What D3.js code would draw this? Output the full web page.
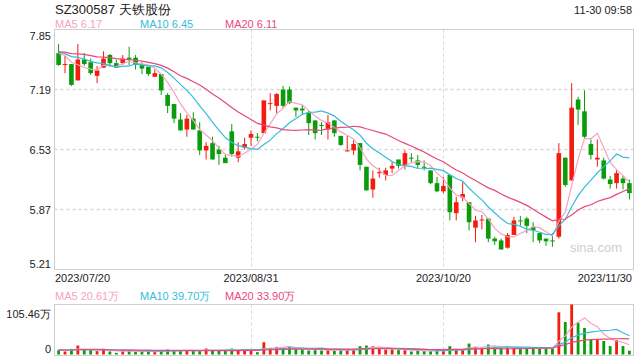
<!DOCTYPE html>
<html><head><meta charset="utf-8">
<script src="https://cdn.jsdelivr.net/npm/d3@7"></script>
<style>body{margin:0;background:#fff;}svg{display:block;font-family:"Liberation Sans",Arial,sans-serif;}</style>
</head><body><svg id="c" width="640" height="360"></svg>
<script>
const dates = ["07/20","07/21","07/24","07/25","07/26","07/27","07/28","07/31",
"08/01","08/02","08/03","08/04","08/07","08/08","08/09","08/10","08/11","08/14","08/15","08/16","08/17","08/18","08/21","08/22","08/23","08/24","08/25","08/28","08/29","08/30","08/31",
"09/01","09/04","09/05","09/06","09/07","09/08","09/11","09/12","09/13","09/14","09/15","09/18","09/19","09/20","09/21","09/22","09/25","09/26","09/27","09/28",
"10/09","10/10","10/11","10/12","10/13","10/16","10/17","10/18","10/19","10/20","10/23","10/24","10/25","10/26","10/27","10/30","10/31",
"11/01","11/02","11/03","11/06","11/07","11/08","11/09","11/10","11/13","11/14","11/15","11/16","11/17","11/20","11/21","11/22","11/23","11/24","11/27","11/28","11/29","11/30"];
const open  = [7.59,7.46,7.47,7.29,7.52,7.49,7.34,7.43,7.57,7.48,7.48,7.54,7.54,7.46,7.44,7.33,7.36,7.13,7.03,6.86,6.75,6.87,6.74,6.52,6.60,6.53,6.44,6.73,6.44,6.55,6.66,6.67,6.71,7.03,7.01,7.19,7.19,6.99,6.98,6.93,6.85,6.80,6.75,6.85,6.68,6.51,6.52,6.60,6.34,6.09,6.27,6.25,6.32,6.42,6.36,6.44,6.41,6.34,6.30,6.16,6.07,6.25,5.83,6.00,5.95,5.67,5.75,5.77,5.55,5.53,5.45,5.59,5.75,5.77,5.68,5.61,5.55,5.53,5.57,6.44,6.19,7.08,6.95,6.59,6.42,6.41,6.20,6.16,6.21,6.16];
const high  = [7.69,7.56,7.47,7.69,7.59,7.53,7.45,7.61,7.58,7.52,7.57,7.66,7.57,7.49,7.44,7.41,7.36,7.15,7.03,6.93,6.91,6.94,6.83,6.61,6.67,6.57,6.47,6.81,6.61,6.66,6.74,6.71,7.07,7.15,7.15,7.23,7.22,6.99,7.02,6.96,6.85,6.83,6.91,6.85,6.68,6.68,6.63,6.60,6.34,6.30,6.33,6.33,6.40,6.42,6.52,6.49,6.47,6.41,6.30,6.23,6.23,6.25,6.01,6.17,5.95,5.80,5.81,5.77,5.57,5.55,5.61,5.79,5.80,5.79,5.73,5.61,5.55,5.61,6.60,6.44,7.26,7.11,7.18,6.64,6.64,6.44,6.24,6.30,6.24,6.20];
const low   = [7.45,7.37,7.23,7.29,7.45,7.35,7.26,7.43,7.44,7.43,7.46,7.46,7.41,7.36,7.34,7.33,7.13,6.93,6.82,6.74,6.67,6.75,6.47,6.42,6.42,6.36,6.38,6.45,6.39,6.53,6.57,6.62,6.71,6.96,6.93,6.99,7.03,6.89,6.91,6.69,6.64,6.69,6.64,6.67,6.57,6.51,6.47,6.30,6.08,6.00,6.22,6.19,6.27,6.32,6.31,6.39,6.32,6.30,6.15,6.06,6.05,5.75,5.75,5.96,5.64,5.51,5.65,5.51,5.48,5.43,5.44,5.59,5.69,5.61,5.51,5.50,5.47,5.46,5.55,6.12,6.19,6.80,6.65,6.42,6.34,6.20,6.10,6.10,6.09,5.98];
const close = [7.46,7.47,7.24,7.52,7.47,7.37,7.40,7.53,7.48,7.43,7.53,7.52,7.46,7.42,7.36,7.37,7.18,7.01,6.87,6.74,6.87,6.75,6.52,6.57,6.42,6.48,6.38,6.48,6.51,6.59,6.70,6.66,7.07,7.04,7.14,7.01,7.04,6.96,6.96,6.82,6.71,6.79,6.83,6.71,6.58,6.52,6.59,6.36,6.08,6.21,6.28,6.30,6.35,6.35,6.49,6.43,6.36,6.33,6.16,6.07,6.13,5.84,5.95,6.04,5.73,5.75,5.76,5.55,5.52,5.43,5.59,5.75,5.74,5.69,5.64,5.53,5.52,5.52,6.49,6.14,6.99,6.97,6.67,6.47,6.44,6.21,6.15,6.27,6.16,6.05];
// volume in 万 shares
const volume = [9.1,6.3,11.9,18.9,10.5,9.1,7.0,11.9,6.3,3.5,7.0,8.4,7.0,7.0,9.1,4.9,7.7,10.5,8.4,8.4,7.7,7.7,9.1,12.6,8.4,9.1,9.1,12.6,9.1,10.5,10.5,4.9,25.9,14.0,16.1,14.0,16.1,11.9,10.5,8.4,9.1,8.4,10.5,7.7,10.5,9.1,11.9,17.5,18.9,17.5,11.9,10.5,10.5,9.1,9.1,6.3,9.1,7.0,7.0,7.7,7.7,17.5,11.9,10.5,23.1,16.1,14.7,21.0,16.1,14.0,14.0,14.0,12.8,12.8,13.5,12.8,12.8,13.5,89.0,68.5,105.46,67.0,56.0,32.7,32.7,28.5,17.8,30.6,17.8,8.0];
// estimated closes / volumes of the 19 sessions before the first candle (for the moving averages)
const priorClose = [7.52,7.55,7.60,7.58,7.63,7.66,7.61,7.59,7.64,7.68,7.62,7.57,7.60,7.65,7.63,7.58,7.61,7.66,7.62];
const priorVolume = [9.0,10.2,8.8,9.5,11.0,9.8,8.5,10.4,9.2,9.9,10.6,8.9,9.4,10.1,9.6,8.7,10.3,9.1,9.8];
const priceTicks = [7.85,7.19,6.53,5.87,5.21];
const dateTicks = ["2023/07/20","2023/08/31","2023/10/20","2023/11/30"];
const title = "SZ300587 天铁股份";
const timeStamp = "11-30 09:58";
const priceLegend = [["MA5 6.17","ma5"],["MA10 6.45","ma10"],["MA20 6.11","ma20"]];
const volLegend = [["MA5 20.61万","ma5"],["MA10 39.70万","ma10"],["MA20 33.90万","ma20"]];
const volMaxLabel = "105.46万";

const COL = {up:"#f31c0e", down:"#0b9c0b", ma5:"#f5a3c0", ma10:"#33bcdc", ma20:"#e9487c", grid:"#d8d8d8", border:"#cfcfcf", text:"#222"};
const svg = d3.select("#c");
const L = 54.5, R = 633.5, PT = 29.5, PB = 269.5, VT = 304.5, VB = 355.5;

const x = d3.scaleBand().domain(dates).range([L, R]).padding(0.28);
const cx = d => x(d) + x.bandwidth()/2;
const y = d3.scaleLinear().domain([5.21, 7.85]).range([PB, PT]);
const yv = d3.scaleLinear().domain([0, 105.46]).range([354.5, VT]);

function ma(vals, prior, n) {
  const all = prior.concat(vals);
  const off = prior.length;
  return vals.map((v, i) => {
    const s = all.slice(Math.max(0, off + i - n + 1), off + i + 1);
    return d3.mean(s);
  });
}
const data = dates.map((d, i) => ({d, o:open[i], h:high[i], l:low[i], c:close[i], v:volume[i]}));

// title
svg.append("text").attr("x", 55).attr("y", 14).attr("font-size", 13).attr("fill", "#222").text(title);
svg.append("text").attr("x", 632).attr("y", 14).attr("font-size", 11).attr("fill", "#222").attr("text-anchor", "end").text(timeStamp);
const legX = [55, 140, 225];
priceLegend.forEach((p, i) => svg.append("text").attr("x", legX[i]).attr("y", 28).attr("font-size", 11).attr("fill", COL[p[1]]).text(p[0]));
volLegend.forEach((p, i) => svg.append("text").attr("x", legX[i]).attr("y", 300).attr("font-size", 11).attr("fill", COL[p[1]]).text(p[0]));

// price panel grid
svg.append("g").selectAll("line").data(priceTicks.slice(1, -1)).join("line")
  .attr("x1", L).attr("x2", R).attr("y1", d => Math.round(y(d)) + 0.5).attr("y2", d => Math.round(y(d)) + 0.5)
  .attr("stroke", COL.grid).attr("stroke-width", 1.5).attr("stroke-dasharray", "3,3");
const vTicks = ["08/31", "10/20"];
[[PT, PB], [VT, VB]].forEach(([t, b]) => {
  svg.append("g").selectAll("line").data(vTicks).join("line")
    .attr("x1", d => Math.round(cx(d)) + 0.5).attr("x2", d => Math.round(cx(d)) + 0.5).attr("y1", t).attr("y2", b)
    .attr("stroke", COL.grid).attr("stroke-dasharray", "3,3");
});
svg.append("rect").attr("x", L).attr("y", PT).attr("width", R - L).attr("height", PB - PT).attr("fill", "none").attr("stroke", COL.border);
svg.append("rect").attr("x", L).attr("y", VT).attr("width", R - L).attr("height", VB - VT).attr("fill", "none").attr("stroke", COL.border);

// axis labels
svg.append("g").selectAll("text").data(priceTicks).join("text")
  .attr("x", 51).attr("text-anchor", "end").attr("font-size", 11).attr("fill", COL.text)
  .attr("y", (d, i) => y(d) + (i === 0 ? 10 : i === priceTicks.length - 1 ? -2 : 4)).text(d => d.toFixed(2));
svg.append("text").attr("x", 51).attr("y", VT + 13).attr("text-anchor", "end").attr("font-size", 11).attr("fill", COL.text).text(volMaxLabel);
svg.append("text").attr("x", 51).attr("y", yv(0) - 2).attr("text-anchor", "end").attr("font-size", 11).attr("fill", COL.text).text("0");
const dateIdx = [0, 30, 60, 89];
svg.append("g").selectAll("text").data(dateTicks).join("text")
  .attr("x", (d, i) => i === 0 ? 55 : i === 3 ? 632 : cx(dates[dateIdx[i]]))
  .attr("text-anchor", (d, i) => i === 0 ? "start" : i === 3 ? "end" : "middle")
  .attr("y", 282).attr("font-size", 11).attr("fill", COL.text).text(d => d);

// watermark
svg.append("text").attr("x", 622).attr("y", 252).attr("text-anchor", "end").attr("font-size", 13).attr("fill", "#d0d0d0").text("sina.com");

// candles
const col = d => d.c >= d.o ? COL.up : COL.down;
const g = svg.append("g");
g.selectAll("line.w").data(data).join("line").attr("class", "w")
  .attr("x1", d => cx(d.d)).attr("x2", d => cx(d.d)).attr("y1", d => y(d.h)).attr("y2", d => y(d.l))
  .attr("stroke", col).attr("stroke-width", 1);
g.selectAll("rect.b").data(data).join("rect").attr("class", "b")
  .attr("x", d => x(d.d)).attr("width", x.bandwidth())
  .attr("y", d => y(Math.max(d.o, d.c))).attr("height", d => Math.max(1, Math.abs(y(d.o) - y(d.c))))
  .attr("fill", col);

// price MAs
const line = d3.line().x((v, i) => cx(dates[i])).y(v => y(v)).curve(d3.curveLinear);
[[5, "ma5"], [10, "ma10"], [20, "ma20"]].forEach(([n, k]) => {
  svg.append("path").attr("d", line(ma(close, priorClose, n))).attr("fill", "none").attr("stroke", COL[k]).attr("stroke-width", 1.2);
});

// volume bars
const bw = 2.8;
svg.append("g").selectAll("rect").data(data).join("rect")
  .attr("x", d => cx(d.d) - bw/2).attr("width", bw)
  .attr("y", d => yv(d.v)).attr("height", d => yv(0) - yv(d.v)).attr("fill", col);
const vline = d3.line().x((v, i) => cx(dates[i])).y(v => yv(v));
[[5, "ma5"], [10, "ma10"], [20, "ma20"]].forEach(([n, k]) => {
  svg.append("path").attr("d", vline(ma(volume, priorVolume, n))).attr("fill", "none").attr("stroke", COL[k]).attr("stroke-width", 1.2);
});
</script></body></html>
